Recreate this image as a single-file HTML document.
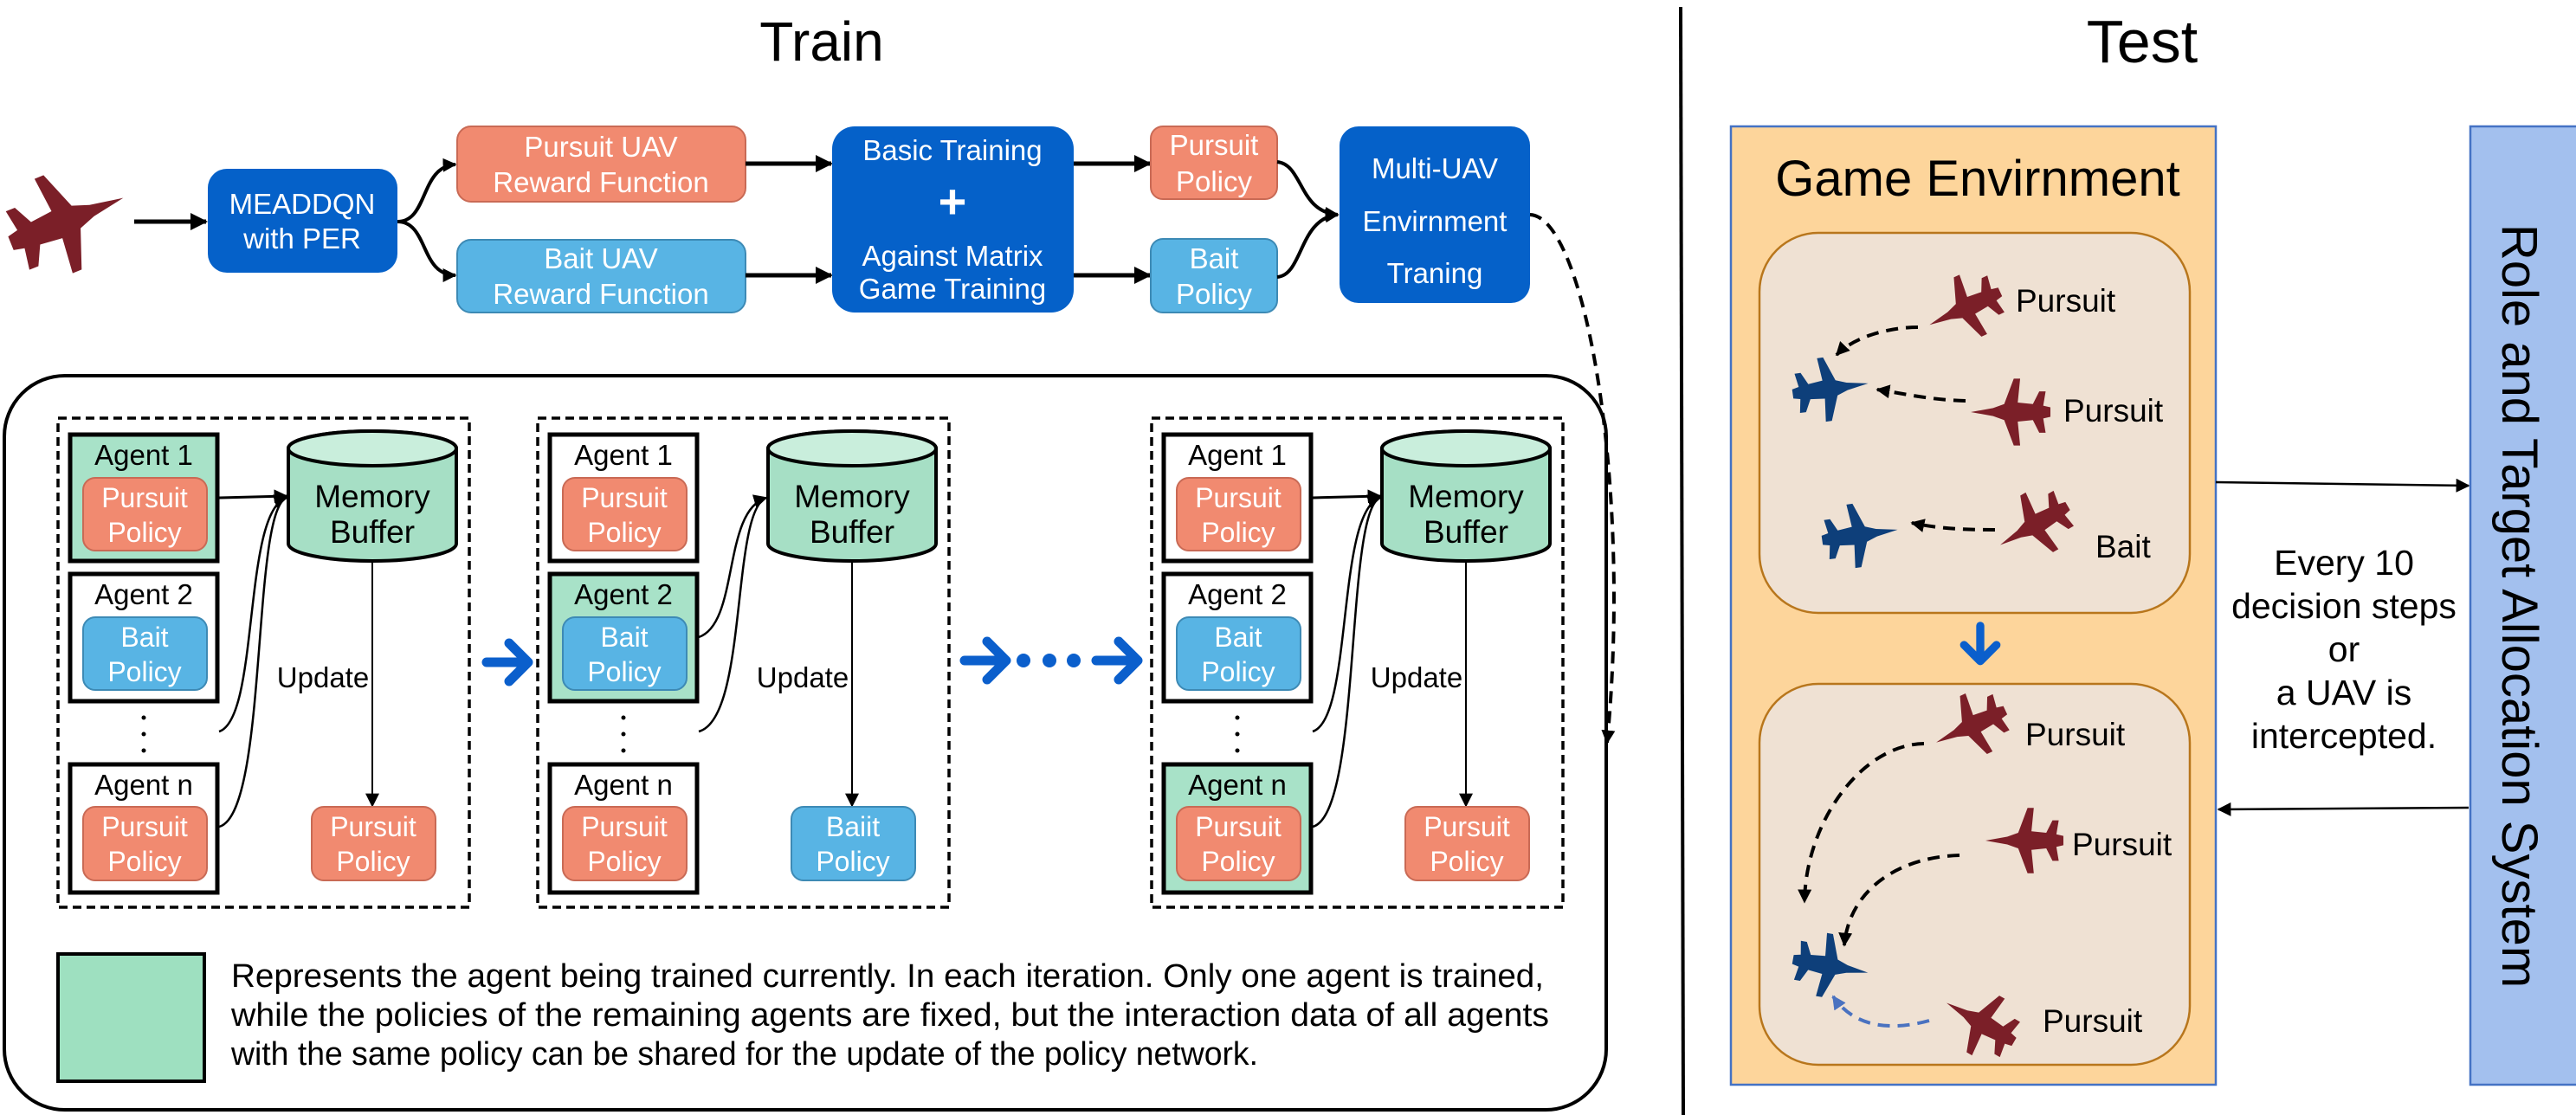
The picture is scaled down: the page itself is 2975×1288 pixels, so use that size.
<!DOCTYPE html>
<html><head><meta charset="utf-8"><style>
html,body{margin:0;padding:0;background:#fff;}
svg{display:block;font-family:"Liberation Sans",Arial,sans-serif;}
</style></head><body>
<svg width="2975" height="1288" viewBox="0 0 2975 1288" xmlns="http://www.w3.org/2000/svg">
<defs>
<marker id="a" viewBox="0 0 10 10" refX="9" refY="5" markerWidth="20" markerHeight="20" orient="auto" markerUnits="userSpaceOnUse"><path d="M0,0 L10,5 L0,10 Z" fill="#000"/></marker>
<marker id="as" viewBox="0 0 10 10" refX="9" refY="5" markerWidth="16" markerHeight="16" orient="auto" markerUnits="userSpaceOnUse"><path d="M0,0 L10,5 L0,10 Z" fill="#000"/></marker>
<marker id="ab" viewBox="0 0 10 10" refX="9" refY="5" markerWidth="16" markerHeight="16" orient="auto" markerUnits="userSpaceOnUse"><path d="M0,0 L10,5 L0,10 Z" fill="#4a72c0"/></marker>
<symbol id="jet" viewBox="0 0 100 100">
<path d="M100,50 L72,45 L58,40 L46,8 L38,8 L41,38 L22,40 L14,24 L6,24 L9,42 L0,44 L0,56 L9,58 L6,76 L14,76 L22,60 L41,62 L38,92 L46,92 L58,60 L72,55 Z"/>
</symbol>
<g id="bluearrow"><path d="M0,-22 L22,0 L0,22" fill="none" stroke="#0b5fcc" stroke-width="11" stroke-linecap="round" stroke-linejoin="round"/><line x1="-26" y1="0" x2="18" y2="0" stroke="#0b5fcc" stroke-width="11" stroke-linecap="round"/></g>
<g id="grpbase">
<rect x="67" y="483" width="475" height="565" fill="none" stroke="#000" stroke-width="3.5" stroke-dasharray="10,6"/>
<circle cx="166" cy="829" r="2.5"/><circle cx="166" cy="848" r="2.5"/><circle cx="166" cy="867" r="2.5"/>
<path d="M333,518 A97,20 0 0 1 527,518 L527,628 A97,20 0 0 1 333,628 Z" fill="#a6dfc5" stroke="#000" stroke-width="4"/>
<ellipse cx="430" cy="518" rx="97" ry="20" fill="#c9eedc" stroke="#000" stroke-width="4"/>
<text x="430" y="586" font-size="37" text-anchor="middle">Memory</text>
<text x="430" y="627" font-size="37" text-anchor="middle">Buffer</text>
<line x1="430" y1="648" x2="430" y2="931" stroke="#000" stroke-width="2" marker-end="url(#as)"/>
<text x="373" y="794" font-size="33" text-anchor="middle">Update</text>
</g>
</defs>

<!-- titles -->
<text x="949" y="70" font-size="64" text-anchor="middle">Train</text>
<text x="2474" y="72" font-size="70" text-anchor="middle">Test</text>
<line x1="1941" y1="8" x2="1944" y2="1288" stroke="#000" stroke-width="4"/>

<!-- top row -->
<use href="#jet" x="5" y="185" width="145" height="140" fill="#7b1f28" transform="rotate(-22 77 255)"/>
<line x1="155" y1="256" x2="238" y2="256" stroke="#000" stroke-width="5" marker-end="url(#a)"/>

<rect x="240" y="195" width="219" height="120" rx="22" fill="#0561c9"/>
<text x="349" y="247" font-size="33" fill="#fff" text-anchor="middle">MEADDQN</text>
<text x="349" y="287" font-size="33" fill="#fff" text-anchor="middle">with PER</text>

<path d="M459,256 C495,256 485,192 526,190" fill="none" stroke="#000" stroke-width="4" marker-end="url(#as)"/>
<path d="M459,256 C495,256 485,318 526,318" fill="none" stroke="#000" stroke-width="4" marker-end="url(#as)"/>

<rect x="528" y="146" width="333" height="87" rx="16" fill="#f18a70" stroke="#c96a55" stroke-width="2"/>
<text x="694" y="181" font-size="33" fill="#fff" text-anchor="middle">Pursuit UAV</text>
<text x="694" y="222" font-size="33" fill="#fff" text-anchor="middle">Reward Function</text>
<rect x="528" y="277" width="333" height="84" rx="16" fill="#58b4e4" stroke="#3d8ab5" stroke-width="2"/>
<text x="694" y="310" font-size="33" fill="#fff" text-anchor="middle">Bait UAV</text>
<text x="694" y="351" font-size="33" fill="#fff" text-anchor="middle">Reward Function</text>

<line x1="861" y1="189" x2="960" y2="189" stroke="#000" stroke-width="5" marker-end="url(#a)"/>
<line x1="861" y1="318" x2="960" y2="318" stroke="#000" stroke-width="5" marker-end="url(#a)"/>

<rect x="961" y="146" width="279" height="215" rx="26" fill="#0561c9"/>
<text x="1100" y="185" font-size="33" fill="#fff" text-anchor="middle">Basic Training</text>
<text x="1100" y="252" font-size="56" font-weight="bold" fill="#fff" text-anchor="middle">+</text>
<text x="1100" y="307" font-size="33" fill="#fff" text-anchor="middle">Against Matrix</text>
<text x="1100" y="345" font-size="33" fill="#fff" text-anchor="middle">Game Training</text>

<line x1="1240" y1="189" x2="1328" y2="189" stroke="#000" stroke-width="5" marker-end="url(#a)"/>
<line x1="1240" y1="318" x2="1328" y2="318" stroke="#000" stroke-width="5" marker-end="url(#a)"/>

<rect x="1329" y="146" width="146" height="84" rx="14" fill="#f18a70" stroke="#c96a55" stroke-width="2"/>
<text x="1402" y="179" font-size="33" fill="#fff" text-anchor="middle">Pursuit</text>
<text x="1402" y="221" font-size="33" fill="#fff" text-anchor="middle">Policy</text>
<rect x="1329" y="276" width="146" height="85" rx="14" fill="#58b4e4" stroke="#3d8ab5" stroke-width="2"/>
<text x="1402" y="310" font-size="33" fill="#fff" text-anchor="middle">Bait</text>
<text x="1402" y="351" font-size="33" fill="#fff" text-anchor="middle">Policy</text>

<path d="M1475,187 C1505,190 1500,245 1545,248" fill="none" stroke="#000" stroke-width="4" marker-end="url(#as)"/>
<path d="M1475,320 C1505,318 1500,252 1545,248" fill="none" stroke="#000" stroke-width="4" marker-end="url(#as)"/>

<rect x="1547" y="146" width="220" height="204" rx="22" fill="#0561c9"/>
<text x="1657" y="206" font-size="33" fill="#fff" text-anchor="middle">Multi-UAV</text>
<text x="1657" y="267" font-size="33" fill="#fff" text-anchor="middle">Envirnment</text>
<text x="1657" y="327" font-size="33" fill="#fff" text-anchor="middle">Traning</text>

<path d="M1767,248 C1830,250 1885,560 1856,858" fill="none" stroke="#000" stroke-width="4" stroke-dasharray="14,9" marker-end="url(#as)"/>

<!-- big box -->
<rect x="5" y="434" width="1850" height="848" rx="70" fill="none" stroke="#000" stroke-width="4"/>

<!-- group1 -->
<use href="#grpbase"/>
<rect x="81" y="502" width="170" height="146" fill="#a8e2c8" stroke="#000" stroke-width="5"/>
<text x="166" y="537" font-size="33" text-anchor="middle">Agent 1</text>
<rect x="96" y="552" width="143" height="84" rx="14" fill="#f18a70" stroke="#c96a55" stroke-width="2"/>
<text x="167" y="586" font-size="32" fill="#fff" text-anchor="middle">Pursuit</text>
<text x="167" y="626" font-size="32" fill="#fff" text-anchor="middle">Policy</text>
<rect x="81" y="663" width="170" height="147" fill="#fff" stroke="#000" stroke-width="5"/>
<text x="166" y="698" font-size="33" text-anchor="middle">Agent 2</text>
<rect x="96" y="713" width="143" height="84" rx="14" fill="#58b4e4" stroke="#3d8ab5" stroke-width="2"/>
<text x="167" y="747" font-size="32" fill="#fff" text-anchor="middle">Bait</text>
<text x="167" y="787" font-size="32" fill="#fff" text-anchor="middle">Policy</text>
<rect x="81" y="883" width="170" height="148" fill="#fff" stroke="#000" stroke-width="5"/>
<text x="166" y="918" font-size="33" text-anchor="middle">Agent n</text>
<rect x="96" y="932" width="143" height="85" rx="14" fill="#f18a70" stroke="#c96a55" stroke-width="2"/>
<text x="167" y="966" font-size="32" fill="#fff" text-anchor="middle">Pursuit</text>
<text x="167" y="1006" font-size="32" fill="#fff" text-anchor="middle">Policy</text>
<rect x="360" y="932" width="143" height="85" rx="14" fill="#f18a70" stroke="#c96a55" stroke-width="2"/>
<text x="431" y="966" font-size="32" fill="#fff" text-anchor="middle">Pursuit</text>
<text x="431" y="1006" font-size="32" fill="#fff" text-anchor="middle">Policy</text>
<line x1="253" y1="575" x2="331" y2="573" stroke="#000" stroke-width="3" marker-end="url(#as)"/>
<path d="M253,845 C300,830 280,590 331,575" fill="none" stroke="#000" stroke-width="2.5" marker-end="url(#as)"/>
<path d="M253,955 C310,940 290,590 331,575" fill="none" stroke="#000" stroke-width="2.5"/>

<!-- group2 -->
<g transform="translate(554,0)">
<use href="#grpbase"/>
<rect x="81" y="502" width="170" height="146" fill="#fff" stroke="#000" stroke-width="5"/>
<text x="166" y="537" font-size="33" text-anchor="middle">Agent 1</text>
<rect x="96" y="552" width="143" height="84" rx="14" fill="#f18a70" stroke="#c96a55" stroke-width="2"/>
<text x="167" y="586" font-size="32" fill="#fff" text-anchor="middle">Pursuit</text>
<text x="167" y="626" font-size="32" fill="#fff" text-anchor="middle">Policy</text>
<rect x="81" y="663" width="170" height="147" fill="#a8e2c8" stroke="#000" stroke-width="5"/>
<text x="166" y="698" font-size="33" text-anchor="middle">Agent 2</text>
<rect x="96" y="713" width="143" height="84" rx="14" fill="#58b4e4" stroke="#3d8ab5" stroke-width="2"/>
<text x="167" y="747" font-size="32" fill="#fff" text-anchor="middle">Bait</text>
<text x="167" y="787" font-size="32" fill="#fff" text-anchor="middle">Policy</text>
<rect x="81" y="883" width="170" height="148" fill="#fff" stroke="#000" stroke-width="5"/>
<text x="166" y="918" font-size="33" text-anchor="middle">Agent n</text>
<rect x="96" y="932" width="143" height="85" rx="14" fill="#f18a70" stroke="#c96a55" stroke-width="2"/>
<text x="167" y="966" font-size="32" fill="#fff" text-anchor="middle">Pursuit</text>
<text x="167" y="1006" font-size="32" fill="#fff" text-anchor="middle">Policy</text>
<rect x="360" y="932" width="143" height="85" rx="14" fill="#58b4e4" stroke="#3d8ab5" stroke-width="2"/>
<text x="431" y="966" font-size="32" fill="#fff" text-anchor="middle">Baiit</text>
<text x="431" y="1006" font-size="32" fill="#fff" text-anchor="middle">Policy</text>
<path d="M253,736 C300,720 280,590 331,575" fill="none" stroke="#000" stroke-width="2.5" marker-end="url(#as)"/>
<path d="M253,845 C310,830 290,590 331,575" fill="none" stroke="#000" stroke-width="2.5"/>
</g>

<!-- group3 -->
<g transform="translate(1263,0)">
<use href="#grpbase"/>
<rect x="81" y="502" width="170" height="146" fill="#fff" stroke="#000" stroke-width="5"/>
<text x="166" y="537" font-size="33" text-anchor="middle">Agent 1</text>
<rect x="96" y="552" width="143" height="84" rx="14" fill="#f18a70" stroke="#c96a55" stroke-width="2"/>
<text x="167" y="586" font-size="32" fill="#fff" text-anchor="middle">Pursuit</text>
<text x="167" y="626" font-size="32" fill="#fff" text-anchor="middle">Policy</text>
<rect x="81" y="663" width="170" height="147" fill="#fff" stroke="#000" stroke-width="5"/>
<text x="166" y="698" font-size="33" text-anchor="middle">Agent 2</text>
<rect x="96" y="713" width="143" height="84" rx="14" fill="#58b4e4" stroke="#3d8ab5" stroke-width="2"/>
<text x="167" y="747" font-size="32" fill="#fff" text-anchor="middle">Bait</text>
<text x="167" y="787" font-size="32" fill="#fff" text-anchor="middle">Policy</text>
<rect x="81" y="883" width="170" height="148" fill="#a8e2c8" stroke="#000" stroke-width="5"/>
<text x="166" y="918" font-size="33" text-anchor="middle">Agent n</text>
<rect x="96" y="932" width="143" height="85" rx="14" fill="#f18a70" stroke="#c96a55" stroke-width="2"/>
<text x="167" y="966" font-size="32" fill="#fff" text-anchor="middle">Pursuit</text>
<text x="167" y="1006" font-size="32" fill="#fff" text-anchor="middle">Policy</text>
<rect x="360" y="932" width="143" height="85" rx="14" fill="#f18a70" stroke="#c96a55" stroke-width="2"/>
<text x="431" y="966" font-size="32" fill="#fff" text-anchor="middle">Pursuit</text>
<text x="431" y="1006" font-size="32" fill="#fff" text-anchor="middle">Policy</text>
<line x1="253" y1="575" x2="331" y2="573" stroke="#000" stroke-width="3" marker-end="url(#as)"/>
<path d="M253,845 C300,830 280,590 331,575" fill="none" stroke="#000" stroke-width="2.5" marker-end="url(#as)"/>
<path d="M253,955 C310,940 290,590 331,575" fill="none" stroke="#000" stroke-width="2.5"/>
</g>

<!-- blue arrows between groups -->
<use href="#bluearrow" transform="translate(588,765)"/>
<use href="#bluearrow" transform="translate(1140,763)"/>
<circle cx="1182" cy="763" r="8" fill="#0b5fcc"/>
<circle cx="1212" cy="763" r="8" fill="#0b5fcc"/>
<circle cx="1240" cy="763" r="8" fill="#0b5fcc"/>
<use href="#bluearrow" transform="translate(1292,763)"/>

<!-- legend -->
<rect x="67" y="1102" width="169" height="147" fill="#9ee0c0" stroke="#000" stroke-width="4"/>
<text x="267" y="1140" font-size="38" textLength="1516" lengthAdjust="spacingAndGlyphs">Represents the agent being trained currently. In each iteration. Only one agent is trained,</text>
<text x="267" y="1185" font-size="38" textLength="1522" lengthAdjust="spacingAndGlyphs">while the policies of the remaining agents are fixed, but the interaction data of all agents</text>
<text x="267" y="1230" font-size="38" textLength="1186" lengthAdjust="spacingAndGlyphs">with the same policy can be shared for the update of the policy network.</text>

<!-- Test side -->
<rect x="1999" y="146" width="560" height="1107" fill="#fdd59b" stroke="#4472c4" stroke-width="2.5"/>
<text x="2284" y="226" font-size="58" text-anchor="middle">Game Envirnment</text>
<rect x="2032" y="269" width="497" height="439" rx="68" fill="#efe1d3" stroke="#b8761c" stroke-width="2.5"/>
<rect x="2032" y="790" width="497" height="440" rx="68" fill="#efe1d3" stroke="#b8761c" stroke-width="2.5"/>
<g transform="translate(2287,745) rotate(90)"><use href="#bluearrow" transform="scale(0.85)"/></g>

<!-- box1 planes -->
<use href="#jet" x="2222" y="315" width="96" height="90" fill="#7b1f28" transform="rotate(155 2270 358)"/>
<use href="#jet" x="2270" y="430" width="104" height="92" fill="#7b1f28" transform="rotate(180 2322 476)"/>
<use href="#jet" x="2302" y="562" width="94" height="90" fill="#7b1f28" transform="rotate(150 2349 607)"/>
<use href="#jet" x="2064" y="405" width="100" height="88" fill="#0e3f7a" transform="rotate(-8 2114 449)"/>
<use href="#jet" x="2098" y="574" width="100" height="88" fill="#0e3f7a" transform="rotate(-8 2148 618)"/>
<path d="M2215,378 C2180,378 2140,390 2121,410" fill="none" stroke="#000" stroke-width="4" stroke-dasharray="14,9" marker-end="url(#as)"/>
<path d="M2270,463 C2230,462 2200,455 2168,450" fill="none" stroke="#000" stroke-width="4" stroke-dasharray="14,9" marker-end="url(#as)"/>
<path d="M2304,612 C2265,612 2235,610 2208,604" fill="none" stroke="#000" stroke-width="4" stroke-dasharray="14,9" marker-end="url(#as)"/>
<text x="2328" y="360" font-size="37">Pursuit</text>
<text x="2383" y="487" font-size="37">Pursuit</text>
<text x="2420" y="644" font-size="37">Bait</text>

<!-- box2 planes -->
<use href="#jet" x="2228" y="795" width="96" height="88" fill="#7b1f28" transform="rotate(155 2276 839)"/>
<use href="#jet" x="2286" y="926" width="104" height="90" fill="#7b1f28" transform="rotate(180 2338 971)"/>
<use href="#jet" x="2240" y="1136" width="94" height="90" fill="#7b1f28" transform="rotate(-150 2287 1181)"/>
<use href="#jet" x="2064" y="1072" width="100" height="88" fill="#0e3f7a" transform="rotate(10 2114 1116)"/>
<path d="M2222,859 C2150,860 2085,950 2084,1042" fill="none" stroke="#000" stroke-width="4" stroke-dasharray="14,9" marker-end="url(#as)"/>
<path d="M2263,988 C2190,990 2135,1030 2130,1092" fill="none" stroke="#000" stroke-width="4" stroke-dasharray="14,9" marker-end="url(#as)"/>
<path d="M2228,1179 C2180,1192 2140,1185 2117,1151" fill="none" stroke="#4a72c0" stroke-width="4" stroke-dasharray="14,9" marker-end="url(#ab)"/>
<text x="2339" y="861" font-size="37">Pursuit</text>
<text x="2393" y="988" font-size="37">Pursuit</text>
<text x="2359" y="1192" font-size="37">Pursuit</text>

<!-- arrows to/from allocation system -->
<line x1="2559" y1="557" x2="2851" y2="561" stroke="#000" stroke-width="2.5" marker-end="url(#as)"/>
<line x1="2851" y1="933" x2="2562" y2="935" stroke="#000" stroke-width="2.5" marker-end="url(#as)"/>
<text x="2707" y="664" font-size="41" text-anchor="middle">Every 10</text>
<text x="2707" y="714" font-size="41" text-anchor="middle">decision steps</text>
<text x="2707" y="764" font-size="41" text-anchor="middle">or</text>
<text x="2707" y="814" font-size="41" text-anchor="middle">a UAV is</text>
<text x="2707" y="864" font-size="41" text-anchor="middle">intercepted.</text>

<rect x="2853" y="146" width="130" height="1107" fill="#a3c0ee" stroke="#4472c4" stroke-width="2.5"/>
<text transform="translate(2890,700) rotate(90)" font-size="58" text-anchor="middle">Role and Target Allocation System</text>
</svg>
</body></html>
